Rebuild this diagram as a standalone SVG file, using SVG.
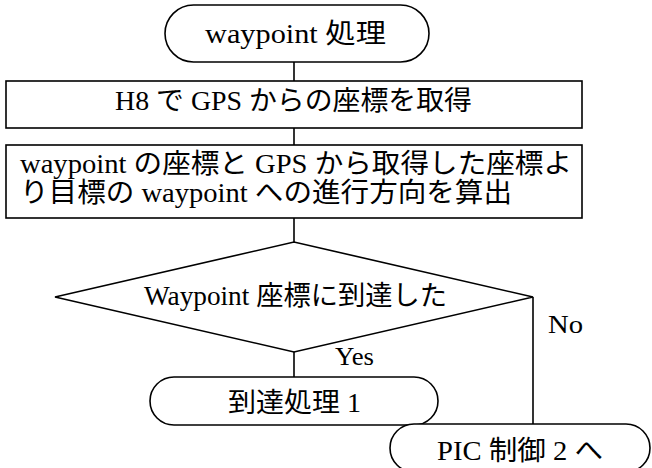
<svg xmlns="http://www.w3.org/2000/svg" width="652" height="468" viewBox="0 0 652 468">
<style>
.s{fill:#fff;stroke:#000;stroke-width:1.6}
.c{stroke:#000;stroke-width:1.6;fill:none}
.t{font-family:"Liberation Serif","Noto Sans CJK JP",serif;font-size:27px;fill:#000}
.l{font-family:"Liberation Serif","Noto Sans CJK JP",serif;font-size:25px;fill:#000}
</style>
<rect width="652" height="468" fill="#fff"/>
<g id="connectors">
<line class="c" x1="294" y1="62" x2="294" y2="81"/>
<line class="c" x1="294" y1="128" x2="294" y2="145"/>
<line class="c" x1="294" y1="218" x2="294" y2="242"/>
<line class="c" x1="294" y1="352" x2="294" y2="377"/>
<line class="c" x1="533" y1="297" x2="533" y2="424"/>
<text class="l" x="335" y="365" textLength="39" lengthAdjust="spacingAndGlyphs">Yes</text>
<text class="l" x="548" y="333" textLength="35" lengthAdjust="spacingAndGlyphs">No</text>
</g>
<g id="start">
<rect class="s" x="165" y="5" width="264" height="57" rx="28.5"/>
<text class="t" x="205" y="43" textLength="181" lengthAdjust="spacingAndGlyphs">waypoint 処理</text>
</g>
<g id="get-coords">
<rect class="s" x="6" y="81" width="576" height="47"/>
<text class="t" x="115" y="110" textLength="357" lengthAdjust="spacingAndGlyphs">H8 で GPS からの座標を取得</text>
</g>
<g id="compute-direction">
<rect class="s" x="6" y="145" width="576" height="73"/>
<text class="t" x="20" y="173" textLength="552" lengthAdjust="spacingAndGlyphs">waypoint の座標と GPS から取得した座標よ</text>
<text class="t" x="20" y="202" textLength="492" lengthAdjust="spacingAndGlyphs">り目標の waypoint への進行方向を算出</text>
</g>
<g id="decision">
<polygon class="s" points="55,297 294,242 533,297 294,352"/>
<text class="t" x="144" y="305" textLength="303" lengthAdjust="spacingAndGlyphs">Waypoint 座標に到達した</text>
</g>
<g id="arrival">
<rect class="s" x="150" y="377" width="288" height="48" rx="24"/>
<text class="t" x="228" y="412" textLength="133" lengthAdjust="spacingAndGlyphs">到達処理 1</text>
</g>
<g id="pic-control">
<rect class="s" x="390" y="424" width="260" height="48" rx="24"/>
<text class="t" x="437" y="460" textLength="166" lengthAdjust="spacingAndGlyphs">PIC 制御 2 へ</text>
</g>
</svg>
